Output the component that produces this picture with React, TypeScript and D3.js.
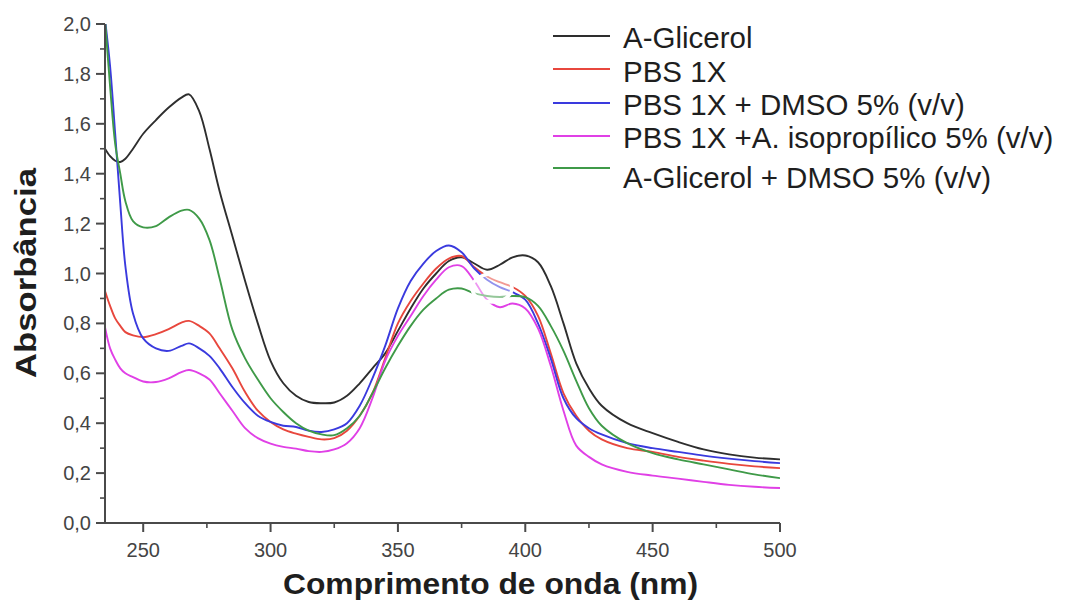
import React from "react";
import * as d3 from "d3";

// Wavelength grid (nm) shared by all spectra
const wavelengths = [235, 237, 239, 241, 243, 246, 250, 255, 260, 265, 268, 272, 276, 280, 285, 290, 295, 300, 305, 310, 315, 320, 325, 330, 335, 340, 345, 350, 355, 360, 365, 370, 375, 380, 385, 390, 395, 400, 405, 410, 415, 420, 425, 430, 440, 450, 460, 470, 480, 490, 500];

// Absorbance per sample
const aGlicerol = [1.50, 1.47, 1.452, 1.447, 1.46, 1.50, 1.56, 1.615, 1.665, 1.705, 1.718, 1.65, 1.50, 1.33, 1.15, 0.97, 0.80, 0.65, 0.56, 0.51, 0.485, 0.48, 0.483, 0.51, 0.56, 0.62, 0.68, 0.77, 0.86, 0.94, 1.00, 1.05, 1.065, 1.04, 1.015, 1.035, 1.065, 1.072, 1.045, 0.95, 0.80, 0.64, 0.54, 0.47, 0.40, 0.36, 0.325, 0.295, 0.275, 0.262, 0.255];
const pbs1x = [0.93, 0.87, 0.82, 0.79, 0.765, 0.752, 0.745, 0.757, 0.777, 0.803, 0.81, 0.79, 0.76, 0.70, 0.62, 0.525, 0.45, 0.405, 0.375, 0.358, 0.345, 0.335, 0.34, 0.37, 0.43, 0.52, 0.66, 0.80, 0.89, 0.96, 1.02, 1.06, 1.07, 1.025, 0.988, 0.965, 0.946, 0.91, 0.83, 0.68, 0.52, 0.43, 0.37, 0.335, 0.30, 0.285, 0.265, 0.25, 0.237, 0.227, 0.22];
const pbsDmso = [2.02, 1.83, 1.56, 1.28, 1.03, 0.84, 0.74, 0.70, 0.69, 0.71, 0.72, 0.70, 0.67, 0.62, 0.545, 0.48, 0.43, 0.405, 0.39, 0.385, 0.37, 0.365, 0.375, 0.40, 0.47, 0.58, 0.71, 0.86, 0.97, 1.04, 1.09, 1.112, 1.085, 1.02, 0.975, 0.945, 0.925, 0.895, 0.80, 0.66, 0.50, 0.42, 0.38, 0.355, 0.32, 0.30, 0.285, 0.27, 0.258, 0.248, 0.24];
const pbsIsopropilico = [0.785, 0.70, 0.655, 0.62, 0.60, 0.585, 0.567, 0.565, 0.58, 0.605, 0.613, 0.60, 0.575, 0.52, 0.45, 0.38, 0.34, 0.318, 0.305, 0.298, 0.288, 0.285, 0.295, 0.32, 0.38, 0.50, 0.65, 0.75, 0.83, 0.91, 0.975, 1.025, 1.03, 0.97, 0.895, 0.865, 0.88, 0.86, 0.78, 0.63, 0.45, 0.31, 0.265, 0.235, 0.205, 0.19, 0.178, 0.165, 0.153, 0.145, 0.14];
const glicerolDmso = [2.02, 1.75, 1.52, 1.40, 1.29, 1.21, 1.185, 1.19, 1.225, 1.252, 1.255, 1.22, 1.135, 0.98, 0.775, 0.66, 0.575, 0.50, 0.445, 0.40, 0.37, 0.355, 0.352, 0.38, 0.43, 0.52, 0.62, 0.71, 0.79, 0.855, 0.90, 0.935, 0.94, 0.92, 0.91, 0.906, 0.91, 0.905, 0.87, 0.79, 0.69, 0.57, 0.46, 0.39, 0.32, 0.28, 0.255, 0.235, 0.215, 0.195, 0.18];

const seriesNames = [
  "A-Glicerol",
  "PBS 1X",
  "PBS 1X + DMSO 5% (v/v)",
  "PBS 1X +A. isopropílico 5% (v/v)",
  "A-Glicerol + DMSO 5% (v/v)",
];
const seriesValues = [aGlicerol, pbs1x, pbsDmso, pbsIsopropilico, glicerolDmso];
const seriesColors = ["#2e2e2e", "#e8473d", "#3a3ade", "#e040e6", "#3f9a48"];

const xTicks = [250, 300, 350, 400, 450, 500];
const xMinorTicks = [275, 325, 375, 425, 475];
const yTicks = [0, 0.2, 0.4, 0.6, 0.8, 1.0, 1.2, 1.4, 1.6, 1.8, 2.0];
const yMinorTicks = [0.1, 0.3, 0.5, 0.7, 0.9, 1.1, 1.3, 1.5, 1.7, 1.9];

const W = 1083;
const H = 608;
const plot = { left: 105, right: 780, top: 24, bottom: 523 };

export default function App() {
  const x = d3.scaleLinear().domain([235, 500]).range([plot.left, plot.right]);
  const y = d3.scaleLinear().domain([0, 2]).range([plot.bottom, plot.top]);
  const line = d3
    .line<number>()
    .x((_, i) => x(wavelengths[i]))
    .y((d) => y(d))
    .curve(d3.curveCatmullRom.alpha(0.5));

  const fmt = (v: number) => v.toFixed(1).replace(".", ",");
  const axisColor = "#4a4a4a";
  const font = "'Liberation Sans', Arial, Helvetica, sans-serif";

  const legendRows = [36, 69, 103, 136, 168];
  const legendTextY = [48, 82, 115, 148, 188];

  return (
    <svg
      width={W}
      height={H}
      viewBox={`0 0 ${W} ${H}`}
      style={{ position: "absolute", left: 0, top: 0, background: "#fff" }}
      fontFamily={font}
    >
      <defs>
        <clipPath id="plotClip">
          <rect x={plot.left} y={plot.top} width={plot.right - plot.left} height={plot.bottom - plot.top} />
        </clipPath>
      </defs>

      {/* spectra */}
      <g clipPath="url(#plotClip)">
        {seriesValues.map((vals, i) => (
          <path
            key={seriesNames[i]}
            d={line(vals) || ""}
            fill="none"
            stroke={seriesColors[i]}
            strokeWidth={1.9}
            strokeLinejoin="round"
          />
        ))}
      </g>

      {/* small ring mark over the peaks */}
      <ellipse cx={492} cy={288} rx={20} ry={14} fill="rgba(255,255,255,0.45)" stroke="#fff" strokeWidth={3.5} />

      {/* y axis */}
      <line x1={plot.left} x2={plot.left} y1={plot.top} y2={plot.bottom} stroke={axisColor} strokeWidth={2} />
      {yTicks.map((t) => (
        <g key={"yt" + t}>
          <line x1={plot.left - 9} x2={plot.left} y1={y(t)} y2={y(t)} stroke={axisColor} strokeWidth={2} />
          <text x={plot.left - 14} y={y(t) + 7} textAnchor="end" fontSize={20} fill="#444">
            {fmt(t)}
          </text>
        </g>
      ))}
      {yMinorTicks.map((t) => (
        <line key={"ym" + t} x1={plot.left - 5} x2={plot.left} y1={y(t)} y2={y(t)} stroke={axisColor} strokeWidth={1.6} />
      ))}

      {/* x axis */}
      <line x1={plot.left - 9} x2={plot.right} y1={plot.bottom} y2={plot.bottom} stroke={axisColor} strokeWidth={2} />
      {xTicks.map((t) => (
        <g key={"xt" + t}>
          <line x1={x(t)} x2={x(t)} y1={plot.bottom} y2={plot.bottom + 9} stroke={axisColor} strokeWidth={2} />
          <text x={x(t)} y={plot.bottom + 34} textAnchor="middle" fontSize={20} fill="#444">
            {t}
          </text>
        </g>
      ))}
      {xMinorTicks.map((t) => (
        <line key={"xm" + t} x1={x(t)} x2={x(t)} y1={plot.bottom} y2={plot.bottom + 5} stroke={axisColor} strokeWidth={1.6} />
      ))}

      {/* axis titles */}
      <text
        x={(283 + 698) / 2}
        y={594}
        textAnchor="middle"
        fontSize={30}
        fontWeight="bold"
        fill="#1e1e1e"
        textLength={415}
        lengthAdjust="spacingAndGlyphs"
      >
        Comprimento de onda (nm)
      </text>
      <text
        transform={`translate(36, ${(168 + 378) / 2}) rotate(-90)`}
        textAnchor="middle"
        fontSize={30}
        fontWeight="bold"
        fill="#1e1e1e"
        textLength={210}
        lengthAdjust="spacingAndGlyphs"
      >
        Absorbância
      </text>

      {/* legend */}
      {seriesNames.map((name, i) => (
        <g key={"lg" + name}>
          <line x1={553} x2={610} y1={legendRows[i]} y2={legendRows[i]} stroke={seriesColors[i]} strokeWidth={2} />
          <text x={623} y={legendTextY[i]} fontSize={29.5} fill="#1e1e1e">
            {name}
          </text>
        </g>
      ))}
    </svg>
  );
}
